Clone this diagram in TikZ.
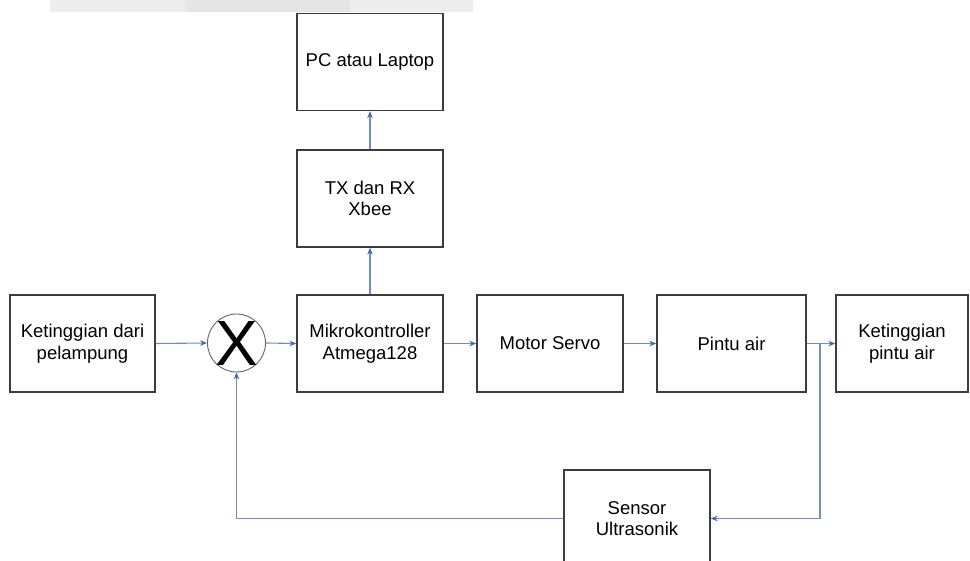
\documentclass[tikz,border=0pt]{standalone}
\usepackage{fontspec}
\setmainfont{Liberation Sans}
\usetikzlibrary{arrows.meta}
\definecolor{boxline}{RGB}{60,60,60}
\definecolor{conn}{RGB}{110,143,190}
\definecolor{tipc}{RGB}{70,105,165}
\tikzset{
  blk/.style={draw=boxline, line width=1.3pt, fill=white, minimum width=#1, minimum height=97pt, align=center, inner sep=0pt,
    font=\fontsize{18.5}{21.5}\selectfont},
  blk/.default=146pt,
  conline/.style={draw=conn, line width=1.1pt},
  arr/.style={conline, -{Stealth[length=7pt,width=5.5pt,color=tipc]}}
}
\begin{document}
\begin{tikzpicture}[x=1pt,y=-1pt]
\useasboundingbox (0,0) rectangle (970,561);
\fill[black!7] (50,0) rectangle (473,12.5);
\fill[black!10] (185,0) rectangle (350,12.5);

\node[blk] (pc) at (370,62) {PC atau Laptop};
\node[blk] (tx) at (370,198.5) {TX dan RX\\Xbee};
\node[blk] (mk) at (370,343.5) {Mikrokontroller\\Atmega128};
\node[blk=145pt] (kp) at (82.5,343.5) {Ketinggian dari\\pelampung};
\node[draw=black!60, line width=0.9pt, circle, minimum size=58pt, inner sep=0pt] (sum) at (236.5,343) {};
\node[font=\fontsize{64}{64}\selectfont, inner sep=0pt] (xs) at (236.5,343) {X};
\node[blk] (ms) at (550,343.5) {Motor Servo};
\node[blk=149pt] (pa) at (731.5,343.5) {Pintu air};
\node[blk=132pt] (kt) at (902,343.5) {Ketinggian\\pintu air};
\node[blk] (su) at (637,518.5) {Sensor\\Ultrasonik};

\coordinate (br) at (820,343.5);

\draw[arr] (kp.east) -- (sum.west);
\draw[arr] (sum.east) -- (mk.west);
\draw[arr] (mk.north) -- (tx.south);
\draw[arr] (tx.north) -- (pc.south);
\draw[arr] (mk.east) -- (ms.west);
\draw[arr] (ms.east) -- (pa.west);
\draw[arr] (pa.east) -- (kt.west);
\draw[arr] (br) |- (su.east);
\draw[arr] (su.west) -| (sum.south);
\end{tikzpicture}
\end{document}
